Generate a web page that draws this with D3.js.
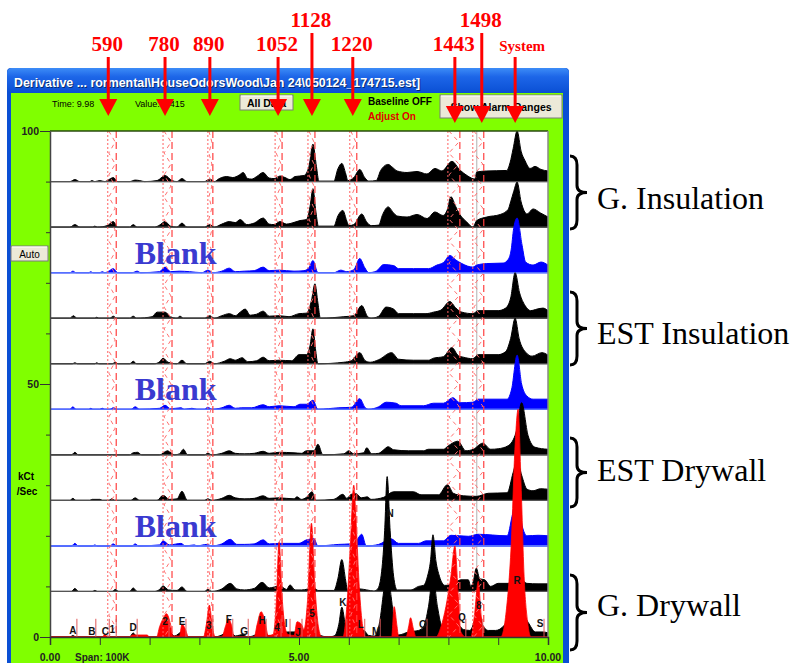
<!DOCTYPE html>
<html><head><meta charset="utf-8">
<script src="https://cdn.jsdelivr.net/npm/d3@7"></script>
<style>body{margin:0;background:#fff;} svg{display:block;}</style>
</head><body>
<svg id="c" width="803" height="663"></svg>
<script>
// ---------------- DATA ----------------
// traces: [time (0-10), height above own baseline (kCt/Sec)], rows listed bottom -> top
const gDrywallLow = [[0,0],[0.4,0],[0.46,0.3],[0.52,0],[1.6,0],[1.67,0.8],[1.75,0],[2.15,0],[2.36,1.4],[2.5,0.2],[2.65,1.0],[2.75,0],[3.1,0],[3.21,0.8],[3.3,0],[3.45,0.4],[3.6,1.3],[3.72,0.2],[3.88,0.5],[3.96,0],[4.1,0.3],[4.26,1.3],[4.38,0.3],[4.5,0.2],[4.62,0.8],[4.8,1.0],[4.95,1.0],[5.02,0.5],[5.12,0.5],[5.2,1.5],[5.28,4.3],[5.38,0.5],[5.6,0],[5.72,0.3],[5.8,2.5],[5.86,5.9],[5.93,2.5],[6.02,0.5],[6.2,0.6],[6.3,1.3],[6.4,0.3],[6.52,0.2],[6.62,3],[6.7,9],[6.77,14],[6.85,8],[6.93,2],[7.0,0.4],[7.2,1.0],[7.4,1.3],[7.5,2],[7.6,6],[7.69,12],[7.78,6],[7.88,2],[8.0,2.0],[8.14,3.0],[8.3,1.5],[8.43,1.3],[8.52,3],[8.6,5.3],[8.68,2.5],[8.8,1.3],[8.95,1.3],[9.12,2.3],[9.25,5],[9.38,10.2],[9.5,5],[9.62,2.6],[9.75,1.0],[9.9,1.0],[10,0.8]];
const gDrywallHigh = [[0,0],[0.43,0],[0.5,0.6],[0.57,0],[0.85,0],[0.9,0.2],[0.95,0],[1.25,0],[1.31,0.4],[1.38,0],[1.6,0],[1.67,0.7],[1.75,0],[2.1,0],[2.2,0.4],[2.27,1.1],[2.38,0.3],[2.55,0.2],[2.65,0.9],[2.75,0],[3.1,0],[3.17,0.4],[3.25,0],[3.45,0.5],[3.62,1.6],[3.75,0.5],[3.9,0.3],[4.1,0.6],[4.26,1.8],[4.4,0.7],[4.62,1.1],[4.75,0.4],[4.82,1.3],[4.92,0.3],[5.05,0.3],[5.18,0.5],[5.28,1.0],[5.38,0.2],[5.7,0.2],[5.78,2.5],[5.86,6.3],[5.94,2],[5.98,0],[6.1,0.2],[6.22,0.5],[6.36,0.3],[6.5,0.1],[6.58,0.5],[6.66,4],[6.72,12],[6.77,22.7],[6.83,12],[6.9,3],[6.97,0.3],[7.25,0.3],[7.4,1.0],[7.5,1.2],[7.58,3],[7.64,6],[7.69,11.2],[7.75,6],[7.82,3],[7.93,1.2],[8.1,1.5],[8.25,2.3],[8.4,2.3],[8.45,1.0],[8.5,2],[8.56,4.6],[8.63,2.5],[8.73,2.3],[8.85,1.0],[9.0,1.6],[9.2,1.6],[9.3,3],[9.38,6],[9.46,3],[9.58,1.6],[9.8,1.5],[10,1.5]];
const blankLow = [[0,0],[0.43,0],[0.5,0.5],[0.57,0],[0.85,0],[0.9,0.2],[0.95,0],[1.2,0],[1.27,0.4],[1.34,0],[1.65,0],[1.71,0.4],[1.78,0],[2.2,0.2],[2.27,1.0],[2.4,0.2],[2.63,0.5],[2.72,0],[2.9,0.2],[2.95,0],[3.15,0.3],[3.25,0],[3.45,0.4],[3.62,1.3],[3.75,0.3],[3.9,0.3],[4.1,0.4],[4.28,1.2],[4.4,0.4],[4.6,0.5],[5.0,0.5],[5.15,1.2],[5.3,1.4],[5.38,0],[5.8,0.3],[6.02,0.4],[6.15,1.0],[6.26,2.3],[6.35,0],[6.6,0.3],[6.85,1.4],[7.0,0.5],[7.4,0.5],[7.55,1.0],[7.9,1.0],[8.05,2.1],[8.4,1.9],[8.6,2.3],[9.18,2.0],[9.28,5.9],[9.38,10],[9.48,4],[9.58,2.0],[9.8,2.1],[10,2.0]];
const estDrywallLow = [[0,0],[0.4,0],[0.46,0.4],[0.52,0],[0.8,0],[0.85,0.2],[1.0,0.2],[1.05,0],[1.18,0],[1.24,0.3],[1.3,0],[1.62,0],[1.71,0.5],[1.8,0],[2.15,0],[2.27,1.0],[2.4,0.2],[2.55,0.3],[2.65,1.8],[2.76,0],[3.1,0],[3.17,0.3],[3.25,0],[3.45,0.4],[3.6,1.0],[3.72,0.5],[3.9,0.3],[4.1,0.4],[4.28,0.9],[4.4,0.4],[4.6,0.5],[4.9,0.3],[4.96,0.7],[5.05,0.2],[5.15,0.6],[5.26,1.7],[5.34,0],[5.7,0.2],[5.88,1.2],[5.96,0.4],[6.05,1.2],[6.15,1.3],[6.25,0.5],[6.37,0.7],[6.45,0.2],[6.7,0.6],[6.9,1.7],[7.3,1.7],[7.45,1.1],[7.8,1.1],[7.98,3.1],[8.1,1.4],[8.3,0.9],[8.57,0.8],[8.8,1.4],[9.18,1.5],[9.3,5.5],[9.38,8.0],[9.47,5],[9.58,2.2],[9.7,1.9],[9.85,2.3],[10,2.2]];
const estDrywallHigh = [[0,0],[0.43,0],[0.5,0.5],[0.57,0],[1.6,0],[1.67,0.4],[1.76,0.5],[1.84,0],[2.2,0],[2.36,0.8],[2.5,0],[2.6,0.2],[2.68,1.1],[2.76,0],[3.1,0],[3.17,0.3],[3.25,0],[3.45,0.3],[3.6,0.8],[3.72,0.3],[3.9,0.2],[4.1,0.3],[4.28,0.7],[4.4,0.3],[4.6,0.5],[4.9,0.4],[5.05,0.3],[5.15,0.8],[5.3,0.8],[5.38,2.1],[5.48,0],[5.9,0.2],[6.0,0.8],[6.1,0.2],[6.3,0.4],[6.36,1.4],[6.46,0.2],[6.6,0.3],[6.7,1.0],[6.79,1.6],[6.9,1.0],[7.2,0.8],[7.5,0.8],[7.6,1.1],[7.9,1.1],[8.0,1.8],[8.19,2.7],[8.35,0.8],[8.5,1.1],[8.69,2.3],[8.85,1.1],[9.0,1.2],[9.2,1.8],[9.36,4.5],[9.47,10.3],[9.6,3.8],[9.74,1.5],[10,1.1]];
const blankMid = [[0,0],[0.4,0],[0.46,0.5],[0.52,0],[0.78,0],[0.82,0.2],[0.86,0],[1.0,0],[1.05,0.2],[1.1,0],[1.2,0],[1.27,0.3],[1.34,0],[1.63,0],[1.71,0.5],[1.8,0],[2.2,0.2],[2.31,0.8],[2.42,0.1],[2.63,0.3],[2.7,0],[2.85,0.2],[2.95,0],[3.1,0],[3.17,0.4],[3.25,0],[3.45,0.3],[3.6,0.8],[3.72,0.2],[3.85,0.3],[4.05,0.3],[4.28,0.9],[4.4,0.5],[4.6,0.7],[4.9,0.5],[5.02,1.0],[5.15,1.0],[5.28,1.8],[5.38,0],[5.8,0.3],[6.05,0.4],[6.22,2.1],[6.33,0.3],[6.4,0],[6.6,0.5],[6.75,1.4],[6.95,1.2],[7.05,0.7],[7.5,0.7],[7.7,1.2],[7.9,1.2],[8.09,2.3],[8.23,1.3],[8.49,1.4],[8.6,2.0],[9.18,2.0],[9.27,4],[9.38,10.7],[9.47,5],[9.58,2.6],[9.7,2.0],[10,2.0]];
const estInsulLow = [[0,0],[0.45,0],[0.5,0.2],[0.55,0],[0.9,0],[0.94,0.2],[0.98,0],[1.25,0],[1.31,0.3],[1.37,0],[1.6,0],[1.67,0.5],[1.74,0],[2.1,0],[2.2,0.4],[2.27,1.1],[2.37,0.3],[2.55,0],[2.65,0.7],[2.75,0],[3.1,0],[3.21,0.5],[3.3,0],[3.5,0.5],[3.62,1.0],[3.72,0.7],[3.86,1.2],[3.97,0.4],[4.15,0.6],[4.28,1.3],[4.4,0.6],[4.6,0.7],[4.85,0.6],[5.0,1.8],[5.15,1.8],[5.22,3.5],[5.28,6.9],[5.33,3],[5.38,0],[5.9,0.3],[6.05,0.6],[6.22,2.2],[6.33,0.6],[6.43,0.3],[6.6,0.8],[6.86,2.2],[7.0,0.9],[7.3,0.7],[7.6,0.7],[7.7,1.1],[7.9,1.4],[8.07,3.2],[8.2,1.6],[8.3,1.3],[8.49,1.0],[8.6,1.8],[9.0,1.8],[9.15,2.4],[9.25,5],[9.34,9.0],[9.42,5],[9.56,2.2],[9.68,1.5],[9.88,2.2],[10,1.7]];
const estInsulHigh = [[0,0],[0.4,0],[0.47,0.5],[0.54,0],[0.9,0],[0.94,0.2],[0.98,0],[1.2,0],[1.27,0.4],[1.34,0],[1.6,0],[1.67,0.4],[1.74,0],[2.05,0.3],[2.15,1.2],[2.31,1.2],[2.42,0.3],[2.55,0],[2.61,0.4],[2.68,0],[3.1,0],[3.21,0.5],[3.3,0],[3.45,0.5],[3.6,0.9],[3.72,0.5],[3.82,1.2],[3.92,1.8],[4.02,0.6],[4.15,0.8],[4.28,1.4],[4.4,0.4],[4.6,0.5],[4.8,0.3],[5.0,0.9],[5.15,1.0],[5.25,3.5],[5.32,6.8],[5.38,3],[5.43,0],[5.9,0.3],[6.1,0.5],[6.26,2.5],[6.38,0.3],[6.45,0],[6.6,0.4],[6.75,2.2],[6.9,1.8],[7.0,0.9],[7.3,0.9],[7.55,0.9],[7.7,1.2],[7.85,1.6],[8.03,3.3],[8.15,2.0],[8.27,1.2],[8.49,0.9],[8.6,1.5],[9.0,1.5],[9.15,2.0],[9.25,4],[9.34,9.0],[9.43,5],[9.54,2.5],[9.65,1.5],[9.78,1.8],[9.9,2.0],[10,1.5]];
const blankHigh = [[0,0],[0.4,0],[0.46,0.3],[0.52,0],[0.78,0],[0.82,0.2],[0.86,0],[1.0,0],[1.05,0.2],[1.1,0],[1.18,0.3],[1.27,0.8],[1.36,0],[1.65,0],[1.75,0.3],[1.82,0],[2.2,0.2],[2.31,1.1],[2.42,0.2],[2.6,0.3],[2.8,0.2],[3.05,0],[3.17,0.5],[3.27,0],[3.45,0.3],[3.6,0.9],[3.72,0.2],[3.9,0.3],[4.1,0.4],[4.28,1.1],[4.4,0.4],[4.6,0.5],[4.9,0.3],[5.1,0.4],[5.2,1.0],[5.28,2.4],[5.38,0],[5.7,0],[5.84,0.5],[5.96,0.2],[6.1,0.6],[6.22,2.8],[6.32,1.0],[6.4,0],[6.55,0.3],[6.7,1.6],[6.9,1.4],[7.0,0.8],[7.3,0.8],[7.6,0.8],[7.77,1.5],[7.9,2.0],[8.03,3.4],[8.15,2.5],[8.27,1.8],[8.49,1.1],[8.57,1.5],[8.77,1.8],[9.1,1.9],[9.2,2.6],[9.26,4.5],[9.31,8.7],[9.38,10.8],[9.48,5.4],[9.55,2.1],[9.7,1.5],[9.86,2.1],[10,1.5]];
const gInsulLow = [[0,0],[0.4,0],[0.5,0.5],[0.6,0],[0.85,0],[0.9,0.2],[0.95,0],[1.15,0.3],[1.27,1.1],[1.36,0],[1.6,0],[1.67,0.5],[1.75,0],[2.1,0],[2.2,0.4],[2.31,1.1],[2.42,0.2],[2.55,0],[2.65,0.8],[2.75,0],[3.1,0],[3.21,0.5],[3.3,0],[3.45,0.6],[3.6,1.1],[3.72,0.9],[3.82,1.5],[3.95,0.5],[4.1,0.8],[4.28,1.8],[4.4,0.6],[4.5,0.5],[4.62,1.1],[4.75,0.6],[4.82,0.7],[5.02,1.3],[5.15,1.5],[5.22,4],[5.28,7.6],[5.34,3],[5.39,0.2],[5.7,0.2],[5.78,2.2],[5.88,3.3],[5.96,1.2],[6.0,0.3],[6.1,0.5],[6.26,2.6],[6.36,1],[6.45,0.3],[6.6,0.4],[6.68,2.5],[6.79,4.0],[6.9,2.8],[6.97,2.2],[7.17,2.0],[7.37,2.5],[7.57,1.7],[7.73,3.0],[7.89,2.3],[7.98,3.5],[8.05,6.0],[8.15,4],[8.23,2.5],[8.37,1.0],[8.49,0],[8.57,1.3],[8.77,2.0],[9.04,2.5],[9.2,3.5],[9.25,5],[9.31,7],[9.38,8.9],[9.46,5],[9.58,2.6],[9.7,3.6],[9.85,2.8],[10,2.0]];
const gInsulHigh = [[0,0],[0.4,0],[0.5,0.4],[0.6,0],[0.8,0],[0.84,0.2],[0.9,0],[1.0,0.2],[1.1,0],[1.2,0.5],[1.27,0.8],[1.36,0],[1.6,0],[1.71,0.3],[1.8,0.2],[1.9,0],[2.15,0.2],[2.31,1.2],[2.45,0.2],[2.55,0],[2.65,0.6],[2.75,0],[3.1,0],[3.21,0.5],[3.3,0],[3.4,0.6],[3.55,1.0],[3.67,0.8],[3.8,1.3],[3.88,1.8],[3.97,0.6],[4.05,0.5],[4.15,1.0],[4.28,1.8],[4.4,0.7],[4.5,0.6],[4.62,1.1],[4.72,0.8],[4.82,0.4],[4.92,1.0],[5.1,1.2],[5.2,3.0],[5.28,7.4],[5.35,3.0],[5.4,0.1],[5.7,0.1],[5.78,2.5],[5.86,3.6],[5.94,1.5],[5.98,0.2],[6.1,0.8],[6.22,2.4],[6.32,0.8],[6.4,0.1],[6.55,0.2],[6.64,2.2],[6.79,3.4],[6.88,2.8],[6.97,2.1],[7.17,1.8],[7.37,2.0],[7.57,1.5],[7.73,2.6],[7.87,2.1],[8.07,4.0],[8.23,2.3],[8.39,1.1],[8.53,0.5],[8.57,1.9],[8.77,2.1],[9.17,2.2],[9.24,3.8],[9.3,6.5],[9.38,10.0],[9.46,6],[9.54,4.1],[9.64,2.6],[9.74,3.0],[9.86,2.4],[10,2.1]];
// derivative trace (red) of the G. Drywall run, on the bottom baseline
const redTrace = [[0,0],[1.05,0],[1.1,0.5],[1.16,0],[1.6,0],[1.65,0.4],[1.95,0.4],[2.0,0],[2.14,0],[2.2,2.0],[2.28,3.8],[2.34,4.6],[2.42,2.5],[2.47,0.2],[2.6,0.2],[2.65,2.5],[2.72,1.5],[2.78,0],[3.08,0],[3.14,2.5],[3.2,6.3],[3.26,2.0],[3.32,0],[3.45,0],[3.52,2.0],[3.58,3.6],[3.64,2.5],[3.7,0],[4.1,0],[4.16,2.5],[4.24,5.0],[4.32,3.0],[4.38,0.3],[4.48,0.5],[4.54,6],[4.6,18.8],[4.66,8],[4.72,2],[4.78,0.5],[4.9,0.3],[4.96,3.0],[5.05,2.5],[5.1,1.5],[5.17,7],[5.25,22.5],[5.32,10],[5.39,2],[5.46,0],[5.88,0],[5.96,6],[6.03,18],[6.1,30],[6.15,22],[6.21,10],[6.28,2],[6.34,0],[6.86,0],[6.91,6],[6.97,2],[7.0,0],[7.15,0],[7.2,2],[7.24,3.8],[7.3,1.5],[7.35,0],[7.75,0],[7.85,2],[7.95,6],[8.05,12],[8.13,18],[8.2,8],[8.25,1],[8.35,0],[8.45,0],[8.52,4],[8.6,11],[8.66,4],[8.72,0],[9.05,0],[9.16,5],[9.26,18],[9.34,38],[9.4,45],[9.46,30],[9.52,12],[9.59,3],[9.66,0],[10,0]];

const rowTraces = [gDrywallLow, gDrywallHigh, blankLow, estDrywallLow, estDrywallHigh, blankMid, estInsulLow, estInsulHigh, blankHigh, gInsulLow, gInsulHigh];
const rowIsBlank = [false,false,true,false,false,true,false,false,true,false,false];
const rowStep = 9.0; // kCt/Sec offset between stacked runs

const peakLabels = ['A','B','C','1','D','2','E','3','F','G','H','4','I','J','5','K','L','M','N','O','Q','8','R','S'];
const peakLabelTimes = [0.46,0.84,1.11,1.25,1.67,2.31,2.65,3.19,3.59,3.90,4.26,4.56,4.74,4.98,5.26,5.88,6.24,6.55,6.83,7.49,8.27,8.61,9.38,9.84];
const peakLabelHeights = [1.2,1.0,1.0,1.4,1.8,3.0,3.0,2.2,3.4,1.0,3.2,1.8,2.6,0.8,4.7,6.9,2.4,1.0,24.5,2.4,3.8,6.3,11.1,2.6];

const markerNames = ['590','780','890','1052','1128','1220','1443','1498','System'];
const markerArrowTimes = [1.17,2.31,3.21,4.58,5.26,6.08,8.13,8.67,9.34];
const markerWindows = [[1.16,1.33],[2.27,2.45],[3.17,3.27],[4.52,4.66],[5.18,5.32],[6.02,6.16],[7.99,8.23],[8.49,8.71]];

const yTickValues = [0,10,20,30,40,50,60,70,80,90,100];
const yTickLabels = {0:'0',50:'50',100:'100'};
const xTickValues = [0,1,2,3,4,5,6,7,8,9,10];
const xTickLabels = [[0,'0.00'],[5,'5.00'],[10,'10.00']];
const groupNames = ['G. Insulation','EST Insulation','EST Drywall','G. Drywall'];
const cursorTime = 8.57;

// ---------------- DRAW ----------------
const svg = d3.select('#c');
const x = d3.scaleLinear().domain([0,10]).range([50,548]);
const y = d3.scaleLinear().domain([0,100]).range([637,131]);
const defs = svg.append('defs');
const g1 = defs.append('linearGradient').attr('id','tb').attr('x1',0).attr('y1',0).attr('x2',0).attr('y2',1);
g1.append('stop').attr('offset','0%').attr('stop-color','#3d8cf7');
g1.append('stop').attr('offset','35%').attr('stop-color','#1d66e8');
g1.append('stop').attr('offset','100%').attr('stop-color','#0a4fd4');
defs.append('clipPath').attr('id','plotclip').append('rect').attr('x',50).attr('y',131).attr('width',498).attr('height',506);

// window frame
svg.append('rect').attr('x',7).attr('y',68).attr('width',562).attr('height',600).attr('rx',4).attr('fill','#0a4fd4');
svg.append('rect').attr('x',11).attr('y',93).attr('width',552).attr('height',575).attr('fill','#80ff00');
svg.append('rect').attr('x',7).attr('y',68).attr('width',562).attr('height',25).attr('rx',5).attr('fill','url(#tb)');
const titleTxt = 'Derivative ... rormental\\HouseOdorsWood\\Jan 24\\050124_174715.est]';
svg.append('text').attr('x',15).attr('y',88).attr('fill','#000').attr('opacity',0.5)
  .attr('font-family','Liberation Sans, Arial, sans-serif').attr('font-weight','bold').attr('font-size',12.4).text(titleTxt);
svg.append('text').attr('x',14).attr('y',87).attr('fill','#fff')
  .attr('font-family','Liberation Sans, Arial, sans-serif').attr('font-weight','bold').attr('font-size',12.4).text(titleTxt);

// header controls
const small = 'Liberation Sans, Arial, sans-serif';
svg.append('text').attr('x',52).attr('y',107).attr('font-family',small).attr('font-size',9).text('Time:  9.98');
svg.append('text').attr('x',135).attr('y',107).attr('font-family',small).attr('font-size',9).text('Value: 1,415');
function button(x0,y0,w,h,label,fs,bold){
  svg.append('rect').attr('x',x0).attr('y',y0).attr('width',w).attr('height',h).attr('fill','#ece9d8').attr('stroke','#7a7a7a');
  svg.append('line').attr('x1',x0+1).attr('x2',x0+w-1).attr('y1',y0+1).attr('y2',y0+1).attr('stroke','#fff');
  svg.append('text').attr('x',x0+w/2).attr('y',y0+h/2+4).attr('text-anchor','middle').attr('font-family',small)
    .attr('font-size',fs).attr('font-weight',bold?'bold':'normal').text(label);
}
button(240,95,53,15,'All Data',10.5,true);
button(440,95,122,23,'Show Alarm Ranges',10.5,true);
button(11,246,37,15,'Auto',10,false);
svg.append('text').attr('x',368).attr('y',105).attr('font-family',small).attr('font-size',10).attr('font-weight','bold').text('Baseline OFF');
svg.append('text').attr('x',368).attr('y',120).attr('font-family',small).attr('font-size',10).attr('font-weight','bold').attr('fill','#e00000').text('Adjust On');

// plot background
svg.append('rect').attr('x',50).attr('y',131).attr('width',498).attr('height',506).attr('fill','#fff');

const plot = svg.append('g').attr('clip-path','url(#plotclip)');
// cursor
plot.append('line').attr('x1',x(cursorTime)).attr('x2',x(cursorTime)).attr('y1',131).attr('y2',637).attr('stroke','#b0b0b0').attr('stroke-width',1);

// stacked traces, drawn top to bottom so lower runs overlap upper ones
for (let k = rowTraces.length-1; k >= 0; k--) {
  const off = k*rowStep;
  const col = rowIsBlank[k] ? '#0000ff' : '#000';
  const area = d3.area().curve(d3.curveMonotoneX).x(d=>x(d[0])).y0(y(off)).y1(d=>y(off+d[1]));
  plot.append('path').datum(rowTraces[k]).attr('d',area).attr('fill',col).attr('stroke',col).attr('stroke-width',1).attr('stroke-linejoin','round');
  plot.append('line').attr('x1',x(0)).attr('x2',x(10)).attr('y1',y(off)).attr('y2',y(off))
    .attr('stroke', rowIsBlank[k] ? '#5570ff' : '#555').attr('stroke-width', rowIsBlank[k]?1.6:1.2);
}
// red derivative
const redArea = d3.area().curve(d3.curveMonotoneX).x(d=>x(d[0])).y0(y(0)).y1(d=>y(d[1]));
plot.append('path').datum(redTrace).attr('d',redArea).attr('fill','#ff0000').attr('stroke','#ff0000').attr('stroke-width',0.8);

// marker windows
markerWindows.forEach(([a,b])=>{
  const xa=x(a), xb=x(b);
  plot.append('line').attr('x1',xa).attr('x2',xa).attr('y1',131).attr('y2',637).attr('stroke','#ff6060').attr('stroke-dasharray','2,2').attr('stroke-width',1);
  plot.append('line').attr('x1',xb).attr('x2',xb).attr('y1',131).attr('y2',637).attr('stroke','#ff4040').attr('stroke-dasharray','7,4').attr('stroke-width',1.2);
  const pts=[]; let i=0;
  for (let yy=131; yy<=637; yy+=11){ pts.push([i%2? xb-1: xa+1, yy]); i++; }
  plot.append('path').attr('d',d3.line()(pts)).attr('fill','none').attr('stroke','#ff7070').attr('stroke-dasharray','4,4').attr('stroke-width',1);
});

// peak labels on bottom run
peakLabels.forEach((lab,i)=>{
  const t=peakLabelTimes[i], h=peakLabelHeights[i];
  if (h < 10) plot.append('line').attr('x1',x(t+0.08)).attr('x2',x(t+0.08)).attr('y1',y(0)).attr('y2',y(3.6)).attr('stroke','#e05a5a').attr('stroke-width',1);
  plot.append('text').attr('x',x(t)).attr('y',y(h)).attr('dy','0.35em').attr('text-anchor','middle')
    .attr('font-family',small).attr('font-size',10).attr('font-weight','bold').attr('fill','#111').text(lab);
});

// plot frame
svg.append('line').attr('x1',50).attr('x2',548).attr('y1',131).attr('y2',131).attr('stroke','#2a4a10').attr('stroke-width',1.5);
svg.append('line').attr('x1',548).attr('x2',548).attr('y1',131).attr('y2',637).attr('stroke','#888').attr('stroke-width',1.5);

// y axis
const yAxis = d3.axisLeft(y).tickValues(yTickValues).tickSize(0).tickFormat(d=>yTickLabels[d]||'').tickPadding(11);
const ya = svg.append('g').attr('transform','translate(50,0)').call(yAxis);
ya.select('.domain').attr('stroke','#444').attr('stroke-width',1.5);
ya.selectAll('.tick line').remove();
ya.selectAll('.tick').append('line').attr('x1',d=>yTickLabels[d]?-10:-4).attr('x2',0).attr('stroke','#333').attr('stroke-width',1);
ya.selectAll('.tick text').attr('font-family',small).attr('font-size',10.5).attr('font-weight','bold').attr('fill','#222');
svg.append('text').attr('x',26).attr('y',480).attr('text-anchor','middle').attr('font-family',small).attr('font-size',10).attr('font-weight','bold').text('kCt');
svg.append('text').attr('x',27).attr('y',495).attr('text-anchor','middle').attr('font-family',small).attr('font-size',10).attr('font-weight','bold').text('/Sec');

// x axis
const xAxis = d3.axisBottom(x).tickValues(xTickValues).tickSize(8).tickFormat('');
const xa = svg.append('g').attr('transform','translate(0,637)').call(xAxis);
xa.select('.domain').attr('stroke','#333').attr('stroke-width',1.5);
xa.selectAll('.tick line').attr('stroke','#333');
xTickLabels.forEach(([t,lab])=>{
  svg.append('text').attr('x',x(t)).attr('y',661).attr('text-anchor','middle').attr('font-family',small).attr('font-size',10.5).attr('font-weight','bold').attr('fill','#222').text(lab);
});
svg.append('text').attr('x',75).attr('y',661).attr('font-family',small).attr('font-size',10).attr('font-weight','bold').attr('fill','#222').text('Span: 100K');

// Blank labels
rowIsBlank.forEach((b,k)=>{
  if(!b) return;
  svg.append('text').attr('x',x(1.7)).attr('y',y(k*rowStep)-9).attr('font-family','Liberation Serif, Times New Roman, serif')
    .attr('font-size',32).attr('font-weight','bold').attr('fill','#3a3ad0').text('Blank');
});

// right-hand group braces
const braceSpans = [[156,229],[292,365],[438,507],[575,650]];
const labelBase = [209,344,481,616];
braceSpans.forEach(([a,b],i)=>{
  const x0=570, xv=577, xt=587, m=(a+b)/2;
  const p = `M${x0},${a} Q${xv},${a} ${xv},${a+9} L${xv},${m-7} Q${xv},${m} ${xt},${m} Q${xv},${m} ${xv},${m+7} L${xv},${b-9} Q${xv},${b} ${x0},${b}`;
  svg.append('path').attr('d',p).attr('fill','none').attr('stroke','#000').attr('stroke-width',3);
  svg.append('text').attr('x',597).attr('y',labelBase[i]).attr('font-family','Liberation Serif, Times New Roman, serif')
    .attr('font-size',32).attr('fill','#000').text(groupNames[i]);
});

// marker arrows + labels
markerNames.forEach((nm,i)=>{
  const xm = x(markerArrowTimes[i]);
  const raised = (nm==='1128' || nm==='1498');
  const lowHead = i>=6;
  const top = raised?33:57, hb = lowHead?106:99, ha = lowHead?123:116;
  svg.append('line').attr('x1',xm).attr('x2',xm).attr('y1',top).attr('y2',hb+1).attr('stroke','#ff0000').attr('stroke-width',3);
  svg.append('path').attr('d',`M${xm-9},${hb} L${xm+9},${hb} L${xm},${ha} Z`).attr('fill','#ff0000');
  const isSys = nm==='System';
  svg.append('text').attr('x', isSys? xm+7 : xm-1).attr('y', raised?27:51).attr('text-anchor','middle')
    .attr('font-family','Liberation Serif, Times New Roman, serif').attr('font-weight','bold')
    .attr('font-size', isSys?15:21).attr('fill','#ff0000').text(nm);
});
</script>
</body></html>
